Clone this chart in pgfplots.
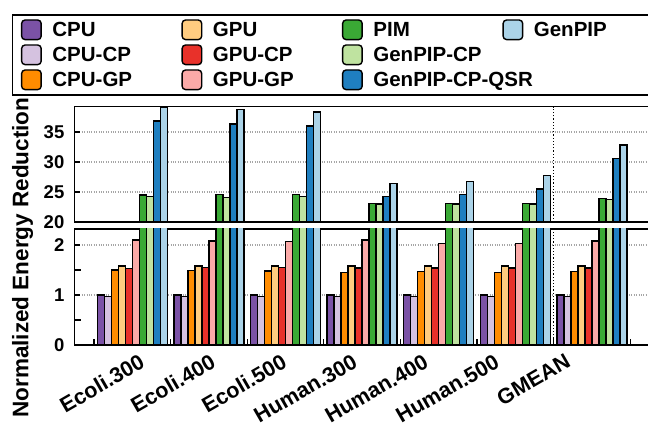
\documentclass[border=0pt]{standalone}
\usepackage{pgfplots}
\pgfplotsset{compat=1.18}
\usepackage{pgfplotstable}
\usepackage{fontspec}
\setmainfont{Liberation Sans}

\definecolor{cpu}{RGB}{123,82,166}
\definecolor{cpucp}{RGB}{213,194,224}
\definecolor{cpugp}{RGB}{255,140,0}
\definecolor{gpu}{RGB}{255,204,128}
\definecolor{gpucp}{RGB}{232,49,42}
\definecolor{gpugp}{RGB}{251,170,168}
\definecolor{pim}{RGB}{58,169,53}
\definecolor{gpcp}{RGB}{191,227,160}
\definecolor{qsr}{RGB}{31,127,192}
\definecolor{genpip}{RGB}{171,211,232}

\newcommand{\tickfont}{\bfseries\fontsize{18.5}{20}\selectfont}
\newcommand{\xfont}{\bfseries\fontsize{21.5}{23}\selectfont}
\newcommand{\legfont}{\bfseries\fontsize{20.5}{22}\selectfont}
\newcommand{\ylfont}{\bfseries\fontsize{22.5}{24}\selectfont}

\pgfplotstableread{
x CPU CPUCP CPUGP GPU GPUCP GPUGP PIM GPCP QSR GENPIP
0 1.00 0.97 1.50 1.58 1.53 2.10 24.5 24.2 36.8 39.1
1 1.00 0.97 1.49 1.58 1.55 2.08 24.6 24.1 36.3 38.7
2 1.00 0.97 1.48 1.58 1.55 2.07 24.6 24.2 36.0 38.3
3 1.00 0.97 1.45 1.58 1.54 2.10 23.1 23.0 24.3 26.4
4 1.00 0.97 1.47 1.58 1.54 2.03 23.1 23.0 24.6 26.7
5 1.00 0.97 1.45 1.58 1.54 2.03 23.1 23.0 25.5 27.7
6 1.00 0.97 1.47 1.58 1.54 2.08 23.9 23.8 30.6 32.8
}\datatable

\pgfplotsset{
  b/.style={fill=#1, draw=black, line width=1.3pt},
  myaxis/.style={
    scale only axis, width=576.5pt, xmin=-0.755, xmax=6.771,
    ybar=0pt, bar width=7pt,
    axis line style={line width=1.5pt},
    tick align=inside, major tick length=5pt, minor tick length=6pt,
    tick style={black, line width=1.2pt},
    ytick pos=left, xtick pos=left,
    ymajorgrids, major grid style={gray!70, dotted, line width=1.2pt},
    every major x tick/.append style={draw=none},
    extra x ticks={5.5}, extra x tick labels={},
    extra x tick style={grid=major, major grid style={black, dotted, line width=1.5pt}},
    yticklabel style={font=\tickfont, inner sep=0pt, xshift=-10pt},
    /pgf/number format/assume math mode=true,
  }
}

\newcommand{\allbars}{%
\addplot[b=cpu] table[x=x,y=CPU]{\datatable};
\addplot[b=cpucp] table[x=x,y=CPUCP]{\datatable};
\addplot[b=cpugp] table[x=x,y=CPUGP]{\datatable};
\addplot[b=gpu] table[x=x,y=GPU]{\datatable};
\addplot[b=gpucp] table[x=x,y=GPUCP]{\datatable};
\addplot[b=gpugp] table[x=x,y=GPUGP]{\datatable};
\addplot[b=pim] table[x=x,y=PIM]{\datatable};
\addplot[b=gpcp] table[x=x,y=GPCP]{\datatable};
\addplot[b=qsr] table[x=x,y=QSR]{\datatable};
\addplot[b=genpip] table[x=x,y=GENPIP]{\datatable};
}

\begin{document}
\begin{tikzpicture}
\useasboundingbox (0pt,0pt) rectangle (648pt,426pt);

% top panel
\begin{axis}[myaxis, at={(74.5pt,204pt)}, anchor=south west, height=115.3pt,
  ymin=20, ymax=39.2, ytick={20,25,30,35}, xtick=\empty]
\allbars
\end{axis}

% bottom panel
\begin{axis}[myaxis, at={(74.5pt,81pt)}, anchor=south west, height=116pt,
  ymin=0, ymax=2.32, ytick={0,1,2}, minor ytick={0.5,1.5},
  xtick={-0.056,0.871,1.798,2.725,3.652,4.578,5.505},
  minor xtick={-0.5,0.5,1.5,2.5,3.5,4.5,5.5,6.5},
  xticklabels={Ecoli.300,Ecoli.400,Ecoli.500,Human.300,Human.400,Human.500,GMEAN},
  xticklabel style={font=\xfont, rotate=30, anchor=north east, inner sep=0pt, xshift=5pt, yshift=-12pt},
  ylabel={Normalized Energy Reduction},
  ylabel style={at={(axis description cs:-0.09,0.754)}, anchor=center, font=\ylfont}]
\allbars
\end{axis}

% legend
\begin{axis}[at={(11.6pt,412pt)}, anchor=north west, scale only axis,
  width=10pt, height=10pt, hide axis, xmin=0, xmax=1, ymin=0, ymax=1,
  legend columns=4, legend cell align=left,
  legend image code/.code={\draw[#1, line width=1.4pt, rounded corners=3.5pt] (0pt,-9.8pt) rectangle (19.6pt,9.8pt);},
  legend style={at={(0,1)}, anchor=north west, draw=black, line width=1.6pt, fill=white,
    inner xsep=8.5pt, inner ysep=4.5pt, row sep=4pt, font=\legfont,
    nodes={inner sep=0pt, text depth=0pt},
    /tikz/every odd column/.append style={column sep=10.5pt}}]
\addlegendimage{fill=cpu, draw=black}\addlegendentry{\makebox[129pt][l]{CPU}}
\addlegendimage{fill=gpu, draw=black}\addlegendentry{\makebox[129pt][l]{GPU}}
\addlegendimage{fill=pim, draw=black}\addlegendentry{\makebox[129pt][l]{PIM}}
\addlegendimage{fill=genpip, draw=black}\addlegendentry{\makebox[110pt][l]{GenPIP}}
\addlegendimage{fill=cpucp, draw=black}\addlegendentry{\makebox[129pt][l]{CPU-CP}}
\addlegendimage{fill=gpucp, draw=black}\addlegendentry{\makebox[129pt][l]{GPU-CP}}
\addlegendimage{fill=gpcp, draw=black}\addlegendentry{\makebox[129pt][l]{GenPIP-CP}}
\addlegendimage{empty legend}\addlegendentry{}
\addlegendimage{fill=cpugp, draw=black}\addlegendentry{\makebox[129pt][l]{CPU-GP}}
\addlegendimage{fill=gpugp, draw=black}\addlegendentry{\makebox[129pt][l]{GPU-GP}}
\addlegendimage{fill=qsr, draw=black}\addlegendentry{\makebox[129pt][l]{GenPIP-CP-QSR}}
\addlegendimage{empty legend}\addlegendentry{}
\end{axis}
\end{tikzpicture}
\end{document}
